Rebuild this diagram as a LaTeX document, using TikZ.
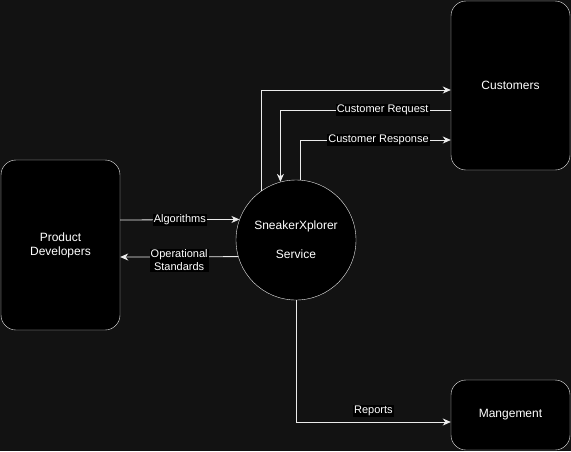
\documentclass[tikz,border=0pt]{standalone}
\usepackage{fontspec}
\setmainfont{Liberation Sans}
\usetikzlibrary{arrows.meta,positioning}
\definecolor{canvas}{RGB}{18,18,18}
\definecolor{edge}{RGB}{235,235,235}
\tikzset{
  entity/.style={draw=edge, fill=black, rounded corners=15pt, text=white, align=center,
    minimum width=119pt, font=\fontsize{12}{14}\selectfont},
  process/.style={draw=edge, fill=black, circle, minimum size=120pt, inner sep=0pt,
    text=white, align=center, font=\fontsize{12}{14}\selectfont},
  flow/.style={draw=edge, line width=0.8pt, ->},
  flowlabel/.style={fill=black, text=white, inner sep=1pt, align=center,
    font=\fontsize{11}{12.5}\selectfont}
}

\begin{document}
\begin{tikzpicture}[x=1pt, y=-1pt, >={Stealth[length=8pt,width=7pt,inset=2.5pt]}]
  \fill[canvas] (0,0) rectangle (571,451);
  \useasboundingbox (0,0) rectangle (571,451);
  % external entities and the process
  \node[entity, minimum height=170pt] (Dev) at (60.5,245) {Product\\Developers};
  \node[entity, minimum height=169pt] (Cust) at (510.5,85.5) {Customers};
  \node[entity, minimum height=70pt] (Mgmt) at (510.5,415) {Mangement};
  \node[process] (Svc) at (296,240) {SneakerXplorer\\[15pt]Service};
  % data flows
  \draw[flow] (Svc.125.7) |- ([yshift=-4.5pt]Cust.west);
  \draw[flow] ([yshift=-24.5pt]Cust.west) -| (Svc.105.5)
    node[flowlabel, pos=0.2] {Customer Request};
  \draw[flow] (Svc.86) |- ([yshift=-54.5pt]Cust.west)
    node[flowlabel, pos=0.76] {Customer Response};
  \draw[flow] ([yshift=25pt]Dev.east) -- (Svc.160.5)
    node[flowlabel, midway] {Algorithms};
  \draw[flow] (Svc.196.5) -- ([yshift=-12pt]Dev.east)
    node[flowlabel, midway, yshift=-3.5pt] {Operational\\Standards};
  \draw[flow] (Svc.south) |- ([yshift=-7pt]Mgmt.west)
    node[flowlabel, pos=0.75, yshift=11pt] {Reports};
\end{tikzpicture}
\end{document}
